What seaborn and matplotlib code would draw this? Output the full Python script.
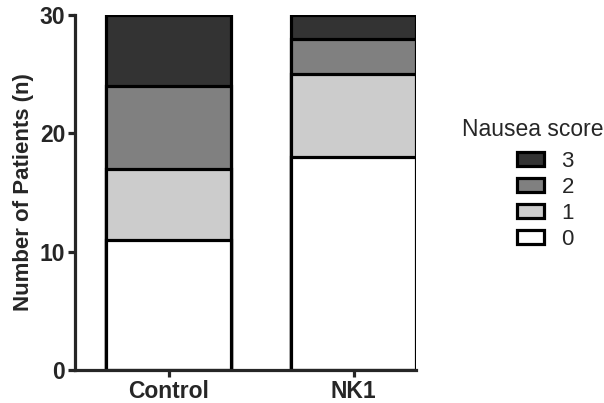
import matplotlib
matplotlib.use("Agg")
import matplotlib.pyplot as plt
import seaborn as sns
import pandas as pd
import numpy as np
from matplotlib.patches import Patch

groups = ["Control", "NK1"]
scores = ["0", "1", "2", "3"]
counts_0 = [11, 18]
counts_1 = [6, 7]
counts_2 = [7, 3]
counts_3 = [6, 2]
colors = {"0": "#ffffff", "1": "#cccccc", "2": "#808080", "3": "#333333"}

sns.set_style("ticks")
plt.rcParams['font.family'] = ['Arial', 'Liberation Sans', 'DejaVu Sans']

layers = [counts_0, counts_1, counts_2, counts_3]
cum = np.cumsum(np.array(layers), axis=0)

fig = plt.figure(figsize=(6.04, 4.03), dpi=100)
ax = fig.add_axes([0.124, 0.082, 0.565, 0.881])

for i in reversed(range(len(scores))):
    df = pd.DataFrame({"group": groups, "n": cum[i]})
    sns.barplot(data=df, x="group", y="n", color=colors[scores[i]], ax=ax,
                width=0.676, edgecolor="black", linewidth=2.3, saturation=1,
                errorbar=None, zorder=2)

ax.set_xlim(-0.508, 1.338)
ax.set_ylim(0, 30)
ax.set_yticks([0, 10, 20, 30])
ax.set_xlabel("")
ax.set_ylabel("Number of Patients (n)", fontsize=16, fontweight="bold", labelpad=4)
for s in ["top", "right"]:
    ax.spines[s].set_visible(False)
for s in ["left", "bottom"]:
    ax.spines[s].set_linewidth(2.3)
ax.tick_params(axis="both", width=2.3, length=5, labelsize=16.5, direction="out", pad=2)
for lab in ax.get_xticklabels() + ax.get_yticklabels():
    lab.set_fontweight("bold")

fig.text(462 / 604, 1 - 130 / 403, "Nausea score", fontsize=16.5,
         ha="left", va="center")
handles = [Patch(facecolor=colors[s], edgecolor="black", linewidth=2.3, label=s)
           for s in reversed(scores)]
leg = fig.legend(handles=handles, loc="upper left",
                 bbox_to_anchor=(517 / 604, 1 - 151 / 403), frameon=False, fontsize=16,
                 handlelength=1.2, handleheight=0.6, labelspacing=0.22,
                 handletextpad=0.8, borderpad=0, borderaxespad=0)

fig.savefig("out.png", dpi=100)
